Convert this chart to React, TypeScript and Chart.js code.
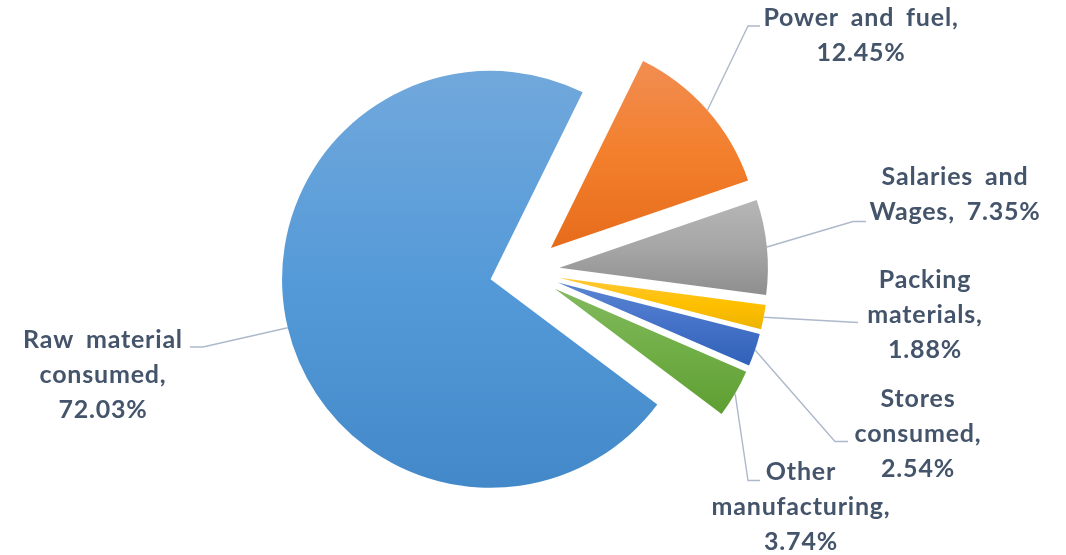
import React, { useEffect, useRef } from "react";
import { Chart, registerables } from "chart.js";

Chart.register(...registerables);

// ---- data ----
const CATEGORIES = [
  "Raw material consumed",
  "Power and fuel",
  "Salaries and Wages",
  "Packing materials",
  "Stores consumed",
  "Other manufacturing",
];
const VALUES = [72.03, 12.45, 7.35, 1.88, 2.54, 3.74];
// words per label line
const LINE_WORDS = [
  [2, 1, 1],
  [3, 1],
  [2, 2],
  [1, 1, 1],
  [1, 1, 1],
  [1, 1, 1],
];

// ---- styles ----
const GRADIENTS = [
  ["#71A8DC", "#559AD8", "#4389C9"],
  ["#F18D52", "#F37F2C", "#E66C1C"],
  ["#B6B6B6", "#A6A6A6", "#8E8E8E"],
  ["#FFC838", "#FFC000", "#EDB300"],
  ["#5B85D2", "#4472C8", "#3061B8"],
  ["#82B95E", "#70AE46", "#5E9E32"],
];
const BASE_COLORS = ["#5B9BD5", "#ED7D31", "#A5A5A5", "#FFC000", "#4472C4", "#70AD47"];
const EXPLODE = 35;
const ROTATION = 126.9;
const TEXT_COLOR = "#44546A";
const LEADER_COLOR = "#ADB9CA";
const FONT = "bold 25px Lato";
const LINE_H = 35;

// label text centre x, first baseline y, leader line bend points
const LABEL_LAYOUT = [
  { cx: 103, y: 348, path: [[203, 347], [190, 347]] },
  { cx: 861, y: 26, path: [[748, 26], [760, 26]] },
  { cx: 955, y: 185, path: [[853, 221.5], [866, 221.5]] },
  { cx: 925, y: 288, path: [[858, 322.5]] },
  { cx: 918, y: 407, path: [[835, 441.5], [848, 441.5]] },
  { cx: 801, y: 480, path: [[748, 480.5], [760, 480.5]] },
];

function labelLines(i: number): string[] {
  const words = `${CATEGORIES[i]}, ${VALUES[i].toFixed(2)}%`.split(" ");
  const out: string[] = [];
  let k = 0;
  for (const n of LINE_WORDS[i]) {
    out.push(words.slice(k, k + n).join(" "));
    k += n;
  }
  return out;
}

const explodePlugin = {
  id: "explodeSlices",
  beforeDatasetDraw(chart: any, args: any) {
    const ctx = chart.ctx;
    args.meta.data.forEach((arc: any, i: number) => {
      const mid = (arc.startAngle + arc.endAngle) / 2;
      const dx = Math.cos(mid) * EXPLODE;
      const dy = Math.sin(mid) * EXPLODE;
      let minY = arc.y;
      let maxY = arc.y;
      for (let k = 0; k <= 90; k++) {
        const a = arc.startAngle + ((arc.endAngle - arc.startAngle) * k) / 90;
        const yy = arc.y + Math.sin(a) * arc.outerRadius;
        minY = Math.min(minY, yy);
        maxY = Math.max(maxY, yy);
      }
      const g = ctx.createLinearGradient(0, minY, 0, maxY);
      const st = GRADIENTS[i];
      g.addColorStop(0, st[0]);
      g.addColorStop(0.5, st[1]);
      g.addColorStop(1, st[2]);
      const orig = arc.options;
      arc.options = Object.assign({}, orig, { backgroundColor: g, borderWidth: 0 });
      ctx.save();
      ctx.translate(dx, dy);
      arc.draw(ctx);
      ctx.restore();
      arc.options = orig;
    });
    return false;
  },
};

const labelPlugin = {
  id: "sliceLabels",
  afterDraw(chart: any) {
    const ctx = chart.ctx;
    const meta = chart.getDatasetMeta(0);
    ctx.save();
    meta.data.forEach((arc: any, i: number) => {
      const mid = (arc.startAngle + arc.endAngle) / 2;
      const r = EXPLODE + arc.outerRadius;
      const sx = arc.x + Math.cos(mid) * r;
      const sy = arc.y + Math.sin(mid) * r;
      const lay = LABEL_LAYOUT[i];
      ctx.beginPath();
      ctx.moveTo(sx, sy);
      lay.path.forEach((p) => ctx.lineTo(p[0], p[1]));
      ctx.strokeStyle = LEADER_COLOR;
      ctx.lineWidth = 1.4;
      ctx.stroke();
      ctx.fillStyle = TEXT_COLOR;
      ctx.font = FONT;
      try {
        (ctx as any).letterSpacing = "0.8px";
        (ctx as any).wordSpacing = "5px";
      } catch (e) {}
      ctx.textAlign = "center";
      ctx.textBaseline = "alphabetic";
      labelLines(i).forEach((ln, j) => {
        ctx.fillText(ln, lay.cx, lay.y + j * LINE_H);
      });
    });
    ctx.restore();
  },
};

export default function App() {
  const ref = useRef<HTMLCanvasElement>(null);
  useEffect(() => {
    if (!ref.current) return;
    const chart = new Chart(ref.current, {
      type: "pie",
      data: {
        labels: CATEGORIES,
        datasets: [
          {
            data: VALUES,
            backgroundColor: BASE_COLORS,
            borderWidth: 0,
          },
        ],
      },
      options: {
        responsive: false,
        animation: false,
        rotation: ROTATION,
        layout: { padding: { left: 316.1, top: 62.7, right: 332.9, bottom: 75.3 } },
        plugins: {
          legend: { display: false },
          tooltip: { enabled: false },
        },
      },
      plugins: [explodePlugin, labelPlugin],
    });
    return () => chart.destroy();
  }, []);
  return (
    <div style={{ position: "absolute", left: 0, top: 0, width: 1066, height: 555, background: "#fff" }}>
      <canvas ref={ref} width={1066} height={555} style={{ display: "block", width: 1066, height: 555 }} />
    </div>
  );
}
